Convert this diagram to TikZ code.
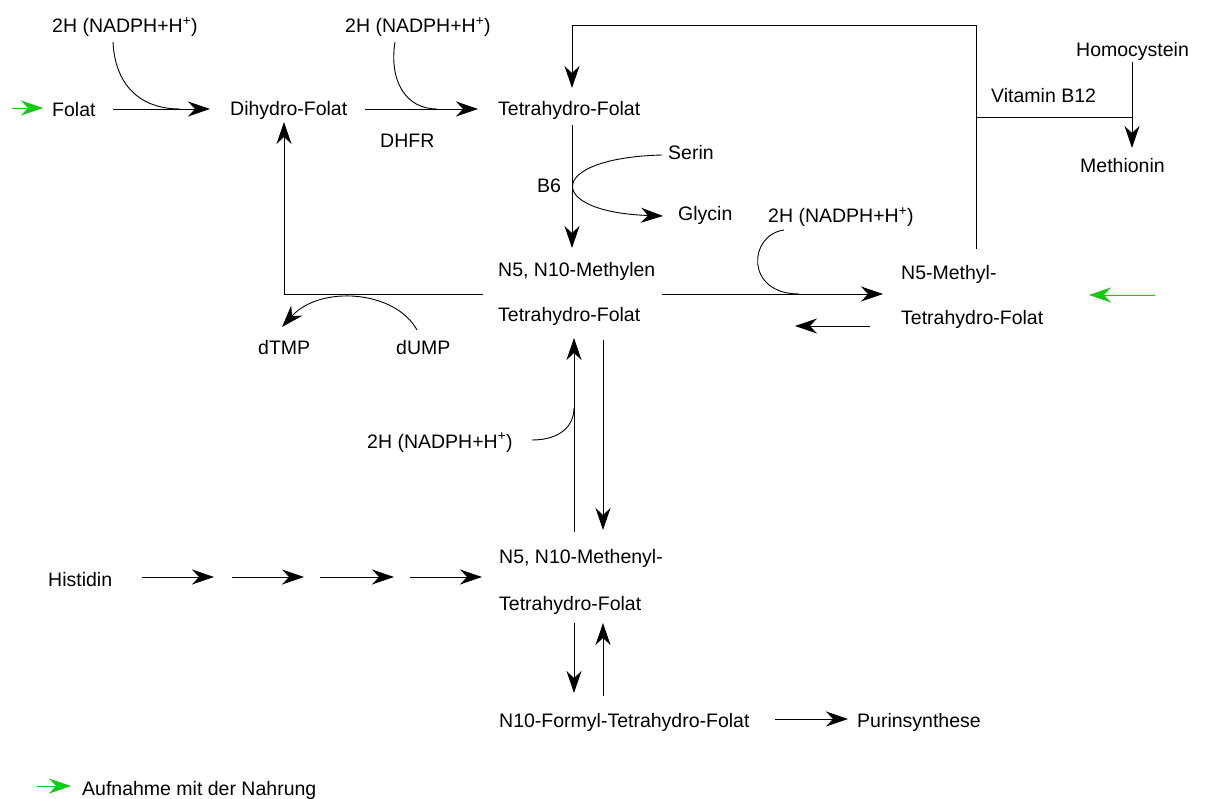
\documentclass[tikz,border=0pt]{standalone}
\usepackage{fontspec}
\setmainfont{Liberation Sans}
\usetikzlibrary{arrows.meta}
\definecolor{fgreen}{RGB}{20,200,20}
\tikzset{>={Stealth[length=22pt,width=15pt,inset=7pt]}}
\begin{document}
\begin{tikzpicture}[x=1pt,y=-1pt,
  lbl/.style={anchor=base west,inner sep=0pt,font=\fontsize{19.5}{22}\selectfont},
  conn/.style={line width=0.9pt},
  arr/.style={conn,->},
  garr/.style={conn,draw=fgreen,fill=fgreen,->}]
\useasboundingbox (0,0) rectangle (1205,799);
% text nodes
\node[lbl] (nad1) at (52,33) {2H (NADPH+H\textsuperscript{+})};
\node[lbl] (nad2) at (345,33) {2H (NADPH+H\textsuperscript{+})};
\node[lbl] (folat) at (52,117) {Folat};
\node[lbl] (dhf) at (230,116) {Dihydro-Folat};
\node[lbl] (dhfr) at (380,148) {DHFR};
\node[lbl] (thf) at (498,116) {Tetrahydro-Folat};
\node[lbl] (homo) at (1076,57) {Homocystein};
\node[lbl] (vitb) at (991,103) {Vitamin B12};
\node[lbl] (meth) at (1080,173) {Methionin};
\node[lbl] (serin) at (668,160) {Serin};
\node[lbl] (b6) at (537,193) {B6};
\node[lbl] (glycin) at (678,221) {Glycin};
\node[lbl] (mlen1) at (498,277) {N5, N10-Methylen};
\node[lbl] (mlen2) at (498,322) {Tetrahydro-Folat};
\node[lbl] (dtmp) at (258,355) {dTMP};
\node[lbl] (dump) at (396,355) {dUMP};
\node[lbl] (nad3) at (768,223) {2H (NADPH+H\textsuperscript{+})};
\node[lbl] (myl1) at (901,280) {N5-Methyl-};
\node[lbl] (myl2) at (901,325) {Tetrahydro-Folat};
\node[lbl] (nad4) at (367,448) {2H (NADPH+H\textsuperscript{+})};
\node[lbl] (histidin) at (48,586) {Histidin};
\node[lbl] (menyl1) at (499,563) {N5, N10-Methenyl-};
\node[lbl] (menyl2) at (499,610) {Tetrahydro-Folat};
\node[lbl] (formyl) at (499,727) {N10-Formyl-Tetrahydro-Folat};
\node[lbl] (purin) at (857,727) {Purinsynthese};
\node[lbl] (legend) at (82,795) {Aufnahme mit der Nahrung};
% coordinates
\coordinate (gA) at (12,108); \coordinate (gB) at (43,108);
\coordinate (f1) at (113,109); \coordinate (f2) at (210,109);
\coordinate (c1) at (113,42); \coordinate (c1e) at (180,109);
\coordinate (d1) at (365,109); \coordinate (d2) at (478,109);
\coordinate (c2) at (395,42); \coordinate (c2e) at (437,109);
\coordinate (t1) at (572,125); \coordinate (t2) at (572,248);
\coordinate (fb1) at (976,249); \coordinate (fb2) at (976,25); \coordinate (fb3) at (572,88);
\coordinate (v1) at (976,117); \coordinate (v2) at (1132,117);
\coordinate (h1) at (1132,62); \coordinate (h2) at (1132,148);
\coordinate (s1) at (662,155); \coordinate (s2) at (663,216);
\coordinate (m1) at (483,294); \coordinate (m2) at (284,122);
\coordinate (u1) at (417,330); \coordinate (u2) at (282,327);
\coordinate (r1) at (662,294); \coordinate (r2) at (883,294);
\coordinate (n3a) at (784,230); \coordinate (n3b) at (799,294);
\coordinate (b1) at (870,326); \coordinate (b2) at (795,326);
\coordinate (gC) at (1155,295); \coordinate (gD) at (1089,295);
\coordinate (up1) at (574,532); \coordinate (up2) at (574,338);
\coordinate (dn1) at (603,340); \coordinate (dn2) at (603,530);
\coordinate (n4a) at (532,440); \coordinate (n4b) at (574,408);
\coordinate (hs1) at (142,577); \coordinate (hs2) at (214,577);
\coordinate (hs3) at (232,577); \coordinate (hs4) at (304,577);
\coordinate (hs5) at (320,577); \coordinate (hs6) at (394,577);
\coordinate (hs7) at (410,577); \coordinate (hs8) at (482,577);
\coordinate (ld1) at (574,623); \coordinate (ld2) at (574,693);
\coordinate (lu1) at (603,696); \coordinate (lu2) at (603,623);
\coordinate (p1) at (775,719); \coordinate (p2) at (848,719);
\coordinate (gE) at (37,786); \coordinate (gF) at (71,786);
% connectors
\draw[garr] (gA) -- (gB);
\draw[arr] (f1) -- (f2);
\draw[conn] (c1) .. controls (115,85) and (140,109) .. (c1e);
\draw[arr] (d1) -- (d2);
\draw[conn] (c2) .. controls (389,80) and (405,109) .. (c2e);
\draw[arr] (t1) -- (t2);
\draw[arr] (fb1) -- (fb2) -| (fb3);
\draw[conn] (v1) -- (v2);
\draw[arr] (h1) -- (h2);
\draw[arr] (s1) .. controls (545,158) and (545,212) .. (s2);
\draw[arr] (m1) -| (m2);
\draw[arr] (u1) .. controls (395,290) and (320,285) .. (u2);
\draw[arr] (r1) -- (r2);
\draw[conn] (n3a) .. controls (748,235) and (745,294) .. (n3b);
\draw[arr] (b1) -- (b2);
\draw[garr] (gC) -- (gD);
\draw[arr] (up1) -- (up2);
\draw[arr] (dn1) -- (dn2);
\draw[conn] (n4a) .. controls (560,440) and (574,426) .. (n4b);
\draw[arr] (hs1) -- (hs2);
\draw[arr] (hs3) -- (hs4);
\draw[arr] (hs5) -- (hs6);
\draw[arr] (hs7) -- (hs8);
\draw[arr] (ld1) -- (ld2);
\draw[arr] (lu1) -- (lu2);
\draw[arr] (p1) -- (p2);
\draw[garr] (gE) -- (gF);
\end{tikzpicture}
\end{document}
